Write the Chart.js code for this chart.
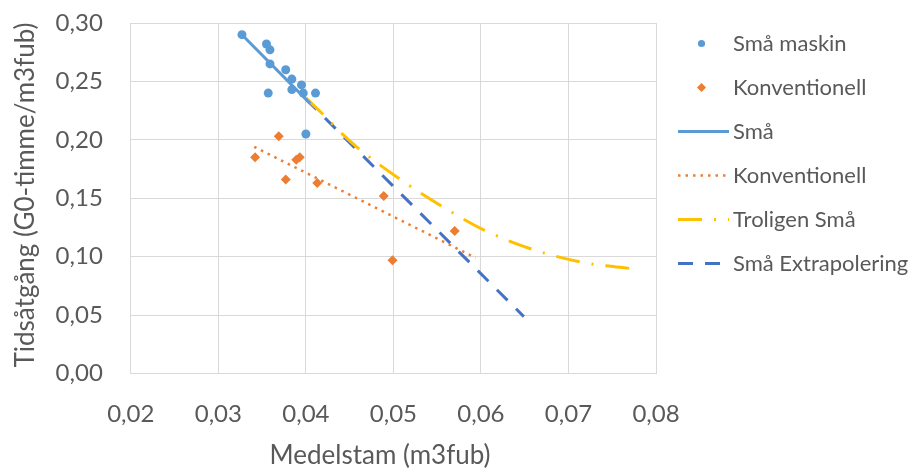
<!DOCTYPE html>
<html lang="sv">
<head>
<meta charset="UTF-8">
<title>Tidsåtgång</title>
<script src="https://cdn.jsdelivr.net/npm/chart.js"></script>
<style>
  html, body { margin: 0; padding: 0; background: #fff; }
</style>
</head>
<body>
<canvas id="chart" width="908" height="468"></canvas>
<script>
// Små maskin (measured points)
const smaX = [0.0327, 0.0355, 0.0359, 0.0359, 0.0377, 0.0384, 0.0395, 0.0384, 0.0397, 0.0411, 0.0357, 0.0400];
const smaY = [0.290, 0.282, 0.277, 0.265, 0.260, 0.252, 0.247, 0.243, 0.240, 0.240, 0.240, 0.205];

// Konventionell (measured points)
const konvX = [0.0342, 0.0369, 0.0377, 0.0389, 0.0393, 0.0413, 0.0489, 0.0499, 0.0570];
const konvY = [0.185, 0.203, 0.166, 0.183, 0.185, 0.163, 0.152, 0.097, 0.122];

// trend lines
const smaLineX = [0.0327, 0.0405];
const smaLineY = [0.290, 0.231];
const konvLineX = [0.0341, 0.0594];
const konvLineY = [0.194, 0.099];
const troligenX = [0.0400, 0.0418, 0.0443, 0.0462, 0.0508, 0.0557, 0.0603, 0.0660, 0.0717, 0.0751, 0.0782];
const troligenY = [0.236, 0.223, 0.204, 0.1915, 0.166, 0.1424, 0.123, 0.106, 0.095, 0.0915, 0.089];
const extraX = [0.0400, 0.0649];
const extraY = [0.235, 0.0487];

const xTicks = [0.02, 0.03, 0.04, 0.05, 0.06, 0.07, 0.08];
const yTicks = [0.00, 0.05, 0.10, 0.15, 0.20, 0.25, 0.30];

const labels = ['Små maskin', 'Konventionell', 'Små', 'Konventionell', 'Troligen Små', 'Små Extrapolering'];
const xTitle = 'Medelstam (m3fub)';
const yTitle = 'Tidsåtgång (G0-timme/m3fub)';

const FONT = 'Lato';
const FS = 22;      // legend
const TICK_FS = 24;
const TITLE_FS = 26;
const TXT = '#595959';
const GRID = '#d9d9d9';

function pts(xs, ys) {
    return xs.map((x, i) => ({ x: x, y: ys[i] }));
}
function fmt(v) {
    return v.toFixed(2).replace('.', ',');
}

// legend and axis titles drawn by hand
const extras = {
    id: 'extras',
    afterDraw(chart) {
        const c = chart.ctx;
        const sets = chart.data.datasets;
        c.save();
        c.font = FS + 'px ' + FONT;
        c.textBaseline = 'middle';
        sets.forEach((ds, i) => {
            const y = 43.5 + i * 44;
            if (ds.showLine === false) {
                c.fillStyle = ds.backgroundColor;
                c.beginPath();
                if (ds.pointStyle === 'rectRot') {
                    c.moveTo(701.5, y - 4.5);
                    c.lineTo(706, y);
                    c.lineTo(701.5, y + 4.5);
                    c.lineTo(697, y);
                } else {
                    c.arc(701.5, y, 3.6, 0, Math.PI * 2);
                }
                c.fill();
            } else {
                c.strokeStyle = ds.borderColor;
                c.lineWidth = ds.borderWidth;
                c.setLineDash(ds.borderDash || []);
                c.beginPath();
                c.moveTo(678, y);
                c.lineTo(729, y);
                c.stroke();
                c.setLineDash([]);
            }
            c.fillStyle = TXT;
            c.fillText(labels[i], 733, y);
        });

        c.font = TITLE_FS + 'px ' + FONT;
        c.fillStyle = TXT;
        c.textAlign = 'center';
        c.fillText(xTitle, 380, 456);
        c.translate(26, 195);
        c.rotate(-Math.PI / 2);
        c.fillText(yTitle, 0, 0);
        c.restore();
    }
};

new Chart(document.getElementById('chart'), {
    type: 'scatter',
    data: {
        datasets: [
            {
                data: pts(smaX, smaY), showLine: false,
                pointStyle: 'circle', pointRadius: 4.5,
                backgroundColor: '#5b9bd5', borderColor: '#5b9bd5', borderWidth: 0
            },
            {
                data: pts(konvX, konvY), showLine: false,
                pointStyle: 'rectRot', pointRadius: 5,
                backgroundColor: '#ed7d31', borderColor: '#ed7d31', borderWidth: 0
            },
            {
                data: pts(smaLineX, smaLineY), showLine: true, pointRadius: 0,
                borderColor: '#5b9bd5', borderWidth: 3
            },
            {
                data: pts(konvLineX, konvLineY), showLine: true, pointRadius: 0,
                borderColor: '#ed7d31', borderWidth: 2.5, borderDash: [2.5, 5]
            },
            {
                data: pts(troligenX, troligenY), showLine: true, pointRadius: 0,
                borderColor: '#ffc000', borderWidth: 3, borderDash: [24, 12, 2, 12],
                cubicInterpolationMode: 'monotone'
            },
            {
                data: pts(extraX, extraY), showLine: true, pointRadius: 0,
                borderColor: '#4472c4', borderWidth: 3, borderDash: [15, 12]
            }
        ]
    },
    options: {
        responsive: false,
        animation: false,
        layout: { padding: { left: 0, right: 252, top: 23, bottom: 0 } },
        plugins: {
            legend: { display: false },
            tooltip: { enabled: false }
        },
        scales: {
            x: {
                type: 'linear', min: 0.02, max: 0.08,
                afterBuildTicks: s => { s.ticks = xTicks.map(v => ({ value: v })); },
                afterFit: s => { s.height = 94.5; s.paddingLeft = 0; s.paddingRight = 0; },
                grid: { color: GRID, drawTicks: false },
                border: { color: GRID },
                ticks: { color: TXT, font: { family: FONT, size: TICK_FS }, padding: 26, callback: fmt }
            },
            y: {
                min: 0, max: 0.3,
                afterBuildTicks: s => { s.ticks = yTicks.map(v => ({ value: v })); },
                afterFit: s => { s.width = 130.8; s.paddingTop = 0; s.paddingBottom = 0; },
                grid: { color: GRID, drawTicks: false },
                border: { color: GRID },
                ticks: { color: TXT, font: { family: FONT, size: TICK_FS }, padding: 28, callback: fmt }
            }
        }
    },
    plugins: [extras]
});
</script>
</body>
</html>
